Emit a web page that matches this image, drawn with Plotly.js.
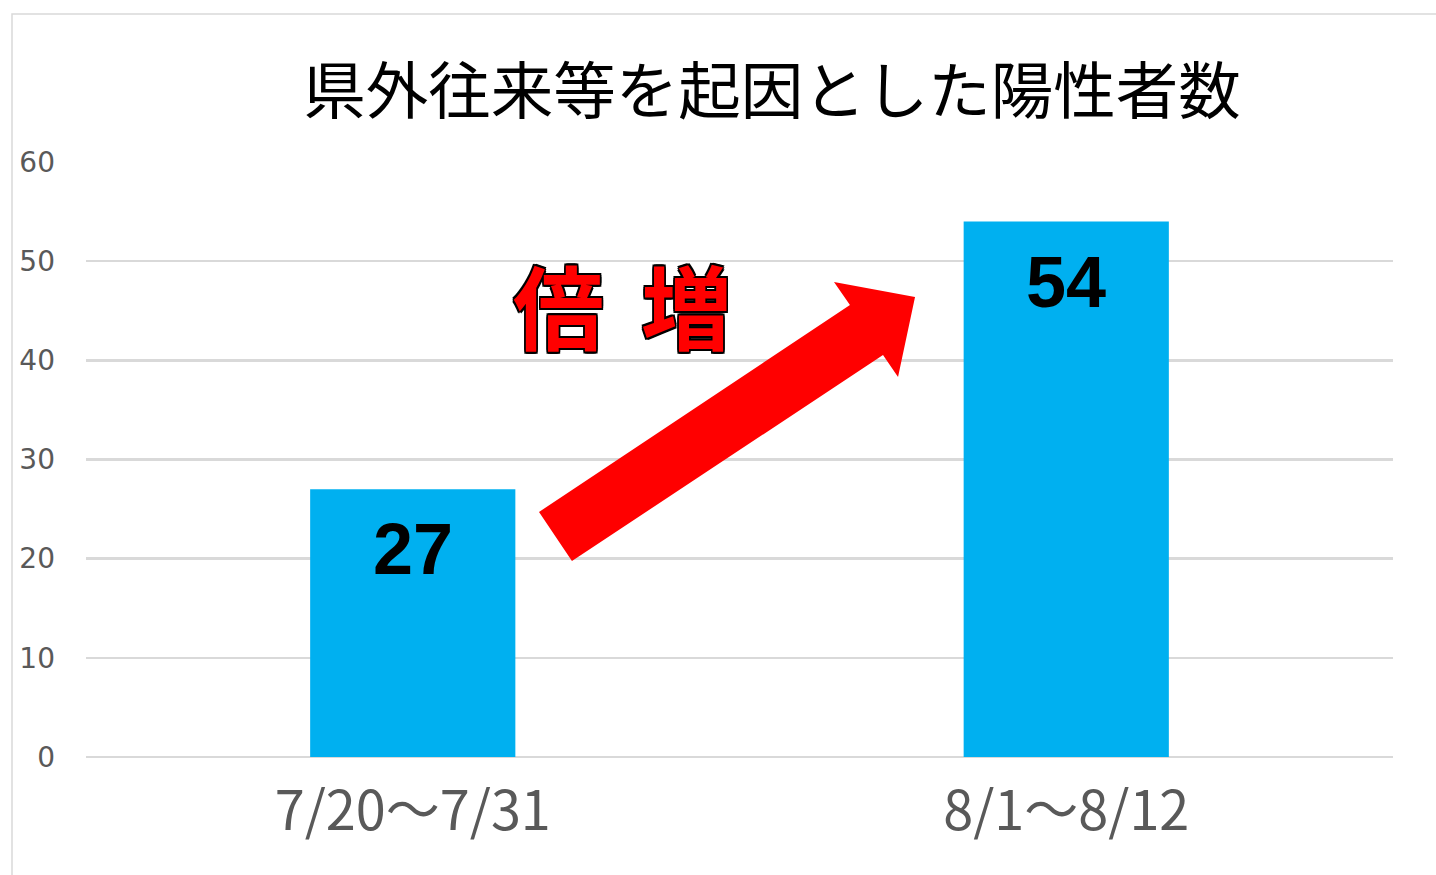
<!DOCTYPE html>
<html>
<head>
<meta charset="utf-8">
<script src="https://cdn.plot.ly/plotly-3.0.1.min.js"></script>
<style>
html,body{margin:0;padding:0;background:#fff;overflow:hidden;}
#chart{width:1436px;height:875px;}
</style>
</head>
<body>
<div id="chart"></div>
<script>
// ---- data ----
const categories = ["7/20～7/31", "8/1～8/12"];
const values = [27, 54];
const yTicks = [0, 10, 20, 30, 40, 50, 60];
const chartTitle = "県外往来等を起因とした陽性者数";
const callout = ["倍", "増"];

// ---- layout helpers (pixel -> paper) ----
const W = 1436, H = 875;
const M = {l: 86, r: 43, t: 162, b: 118};
const PW = W - M.l - M.r, PH = H - M.t - M.b;
const px = x => (x - M.l) / PW;
const py = y => (H - M.b - y) / PH;

const barColor = "#00B0F0";
const grid = "#d9d9d9";
const jp = "'Noto Sans CJK JP', 'Noto Sans', sans-serif";

const trace = {
  type: "bar",
  x: categories,
  y: values,
  marker: {color: barColor},
  hoverinfo: "skip"
};

// arrow polygon (decoration, pixel outline converted to paper)
const arrowPts = [[539,512],[850,305],[834,282],[915,297],[898,377],[883,355],[572,561]];
const arrowPath = "M " + arrowPts.map(p => px(p[0]).toFixed(4) + "," + py(p[1]).toFixed(4)).join(" L ") + " Z";

const o = "1.6px";
const outline = [[`-${o}`,`-${o}`],[o,`-${o}`],[`-${o}`,o],[o,o],["0",o],["0",`-${o}`],[o,"0"],[`-${o}`,"0"]]
  .map(p => `${p[0]} ${p[1]} 0 #000`).join(", ");

const annotations = values.map((v, i) => ({
  x: categories[i], y: v, xref: "x", yref: "y",
  text: String(v), showarrow: false,
  yanchor: "middle", yshift: -60,
  font: {family: "'Liberation Sans', Arial, sans-serif", size: 72, color: "#000", weight: 700}
})).concat([
  {x: px(558), y: py(303), xref: "paper", yref: "paper", text: callout[0], showarrow: false,
   xanchor: "center", yanchor: "middle",
   font: {family: jp, size: 91, color: "#ff0000", weight: 700, shadow: outline}},
  {x: px(686), y: py(303), xref: "paper", yref: "paper", text: callout[1], showarrow: false,
   xanchor: "center", yanchor: "middle",
   font: {family: jp, size: 91, color: "#ff0000", weight: 700, shadow: outline}}
]);

const layout = {
  width: W, height: H,
  margin: M,
  paper_bgcolor: "#fff", plot_bgcolor: "#fff",
  showlegend: false,
  bargap: 0.686,
  title: {
    text: chartTitle,
    font: {family: jp, size: 62.5, color: "#000"},
    x: px(772), xref: "paper", xanchor: "center",
    y: 1 - 92 / H, yref: "container", yanchor: "middle"
  },
  xaxis: {
    type: "category",
    tickfont: {family: jp, size: 54, color: "#595959"},
    showgrid: false, showline: false, ticks: "",
    ticklabelstandoff: 18
  },
  yaxis: {
    range: [0, 60],
    tickvals: yTicks,
    ticktext: yTicks.map(String),
    tickfont: {family: "'DejaVu Sans', 'Noto Sans', sans-serif", size: 28, color: "#595959"},
    showgrid: true, gridcolor: grid, gridwidth: 2.5,
    zeroline: true, zerolinecolor: grid, zerolinewidth: 2.5,
    showline: false, ticks: "",
    ticklabelstandoff: 30
  },
  shapes: [
    {type: "rect", xref: "paper", yref: "paper",
     x0: px(12), x1: px(1460), y0: py(900), y1: py(14),
     line: {color: grid, width: 1.5}, fillcolor: "rgba(0,0,0,0)", layer: "below"},
    {type: "path", xref: "paper", yref: "paper", path: arrowPath,
     fillcolor: "#ff0000", line: {width: 0}, layer: "above"}
  ],
  annotations: annotations
};

Plotly.newPlot("chart", [trace], layout, {displayModeBar: false, staticPlot: true});
</script>
</body>
</html>
